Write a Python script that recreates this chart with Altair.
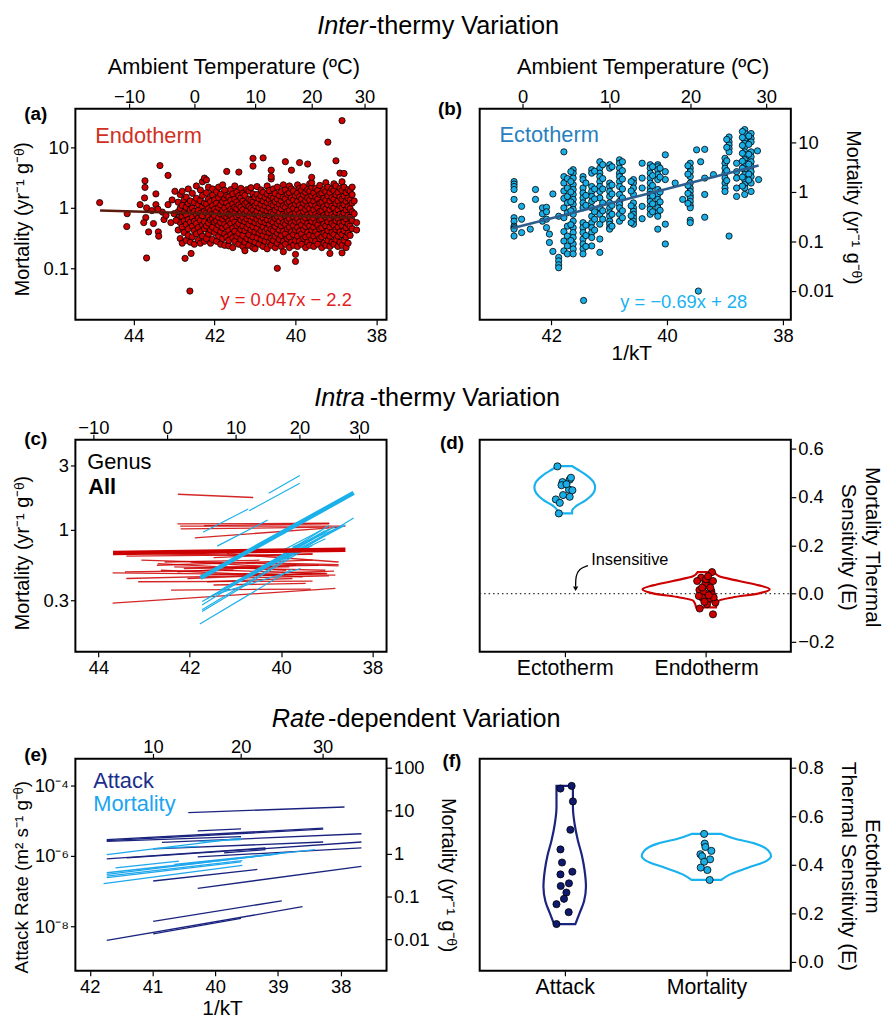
import altair as alt
import pandas as pd

FONT = "Liberation Sans"
KB = 8.617e-5
MORT_TITLE = "Mortality (yr⁻¹ g⁻ᶿ)"
ATT_TITLE = "Attack Rate (m² s⁻¹ g⁻ᶿ)"
W = 314
FRAME = alt.ViewBackground(stroke="black", strokeWidth=2)
NOFRAME = alt.ViewBackground(strokeOpacity=0)
ONE = pd.DataFrame({"o": [0]})

# ---------------- (a) endotherm scatter: 1/kT columns and mortality values ----------------
ENDO_COL_X = [42.90, 42.85, 42.80, 42.75, 42.70, 42.65, 42.60, 42.55, 42.50, 42.45, 42.40, 42.35,
              42.30, 42.25, 42.20, 42.15, 42.10, 42.05, 42.00, 41.95, 41.90, 41.85, 41.80, 41.75,
              41.70, 41.65, 41.60, 41.55, 41.50, 41.45, 41.40, 41.35, 41.30, 41.25, 41.20, 41.15,
              41.10, 41.05, 41.00, 40.95, 40.90, 40.85, 40.80, 40.75, 40.70, 40.65, 40.60, 40.55,
              40.50, 40.45, 40.40, 40.35, 40.30, 40.25, 40.20, 40.15, 40.10, 40.05, 40.00, 39.95,
              39.90, 39.85, 39.80, 39.75, 39.70, 39.65, 39.60, 39.55, 39.50, 39.45, 39.40, 39.35,
              39.30, 39.25, 39.20, 39.15, 39.10, 39.05, 39.00, 38.95, 38.90, 38.85, 38.80, 38.75,
              38.70, 38.65, 38.60]
ENDO_COL_M = [
    [0.43, 0.66, 1.24, 0.86], [0.31, 0.57, 0.98, 1.66], [0.26, 0.48, 0.72, 1.1, 1.88],
    [0.39, 0.61, 0.84, 1.36], [0.29, 0.53, 0.77, 1.02, 1.5], [0.35, 0.45, 0.64, 1.18, 2.05],
    [0.27, 0.58, 0.93, 1.3], [0.33, 0.5, 0.7, 0.99, 1.74], [0.25, 0.42, 0.6, 0.87, 1.23],
    [0.37, 0.55, 0.78, 1.44, 2.3], [0.29, 0.47, 0.68, 0.91, 1.13], [0.26, 0.4, 0.62, 0.81, 1.31, 1.97],
    [0.34, 0.52, 0.74, 1.05, 1.6, 2.7], [0.28, 0.45, 0.59, 0.88, 1.2, 3.1], [0.31, 0.5, 0.83, 1.15, 1.78, 2.9],
    [0.37, 0.56, 0.71, 0.97, 1.4, 2.2], [0.26, 0.43, 0.63, 0.9, 1.27], [0.3, 0.48, 0.66, 0.8, 1.08, 1.63, 2.05],
    [0.39, 0.58, 0.75, 0.95, 1.35], [0.28, 0.44, 0.61, 0.86, 1.19, 1.86], [0.34, 0.52, 0.69, 1.01, 1.48, 2.2],
    [0.25, 0.4, 0.57, 0.79, 1.12, 1.68], [0.31, 0.47, 0.65, 0.9, 1.27, 2.4], [0.24, 0.37, 0.53, 0.73, 0.99, 1.43, 1.95],
    [0.33, 0.49, 0.7, 0.84, 1.2, 1.6, 4.0], [0.235, 0.29, 0.42, 0.6, 0.78, 1.06, 1.52], [0.36, 0.55, 0.75, 0.94, 1.33, 2.0],
    [0.22, 0.32, 0.46, 0.66, 0.88, 1.17, 1.7], [0.28, 0.41, 0.58, 0.81, 1.02, 1.39, 2.3], [0.34, 0.51, 0.72, 0.97, 1.25, 1.83],
    [0.25, 0.38, 0.55, 0.76, 1.12, 1.58, 3.9], [0.3, 0.44, 0.63, 0.85, 1.03, 1.46, 2.1], [0.23, 0.35, 0.5, 0.69, 0.93, 1.29, 1.74],
    [0.195, 0.27, 0.42, 0.59, 0.8, 1.16, 1.61], [0.31, 0.47, 0.66, 0.89, 1.22, 2.0], [0.24, 0.36, 0.53, 0.74, 1.05, 1.39, 1.9],
    [0.29, 0.43, 0.61, 0.83, 0.98, 1.33, 2.15], [0.22, 0.33, 0.49, 0.7, 0.91, 1.25, 1.7, 4.9, 6.6], [0.21, 0.27, 0.4, 0.57, 0.79, 1.09, 1.5],
    [0.32, 0.46, 0.64, 0.87, 1.19, 1.66, 2.25], [0.25, 0.38, 0.54, 0.73, 1.01, 1.42], [0.3, 0.42, 0.6, 0.82, 1.13, 1.57, 1.98],
    [0.23, 0.35, 0.48, 0.68, 0.94, 1.3, 1.81, 6.7], [0.28, 0.41, 0.57, 0.77, 1.07, 1.49], [0.21, 0.33, 0.45, 0.63, 0.89, 1.21, 1.68, 2.3],
    [0.27, 0.39, 0.53, 0.74, 1.0, 1.37, 1.93], [0.24, 0.31, 0.44, 0.61, 0.84, 1.16, 1.55, 3.0, 3.3, 4.2], [0.29, 0.42, 0.58, 0.79, 1.1, 1.45, 2.05],
    [0.22, 0.34, 0.49, 0.67, 0.92, 1.27, 1.73], [0.1, 0.26, 0.38, 0.55, 0.72, 1.03, 1.4, 2.2], [0.3, 0.43, 0.6, 0.82, 1.14, 1.6],
    [0.23, 0.35, 0.5, 0.69, 0.96, 1.3, 1.85], [0.188, 0.28, 0.41, 0.57, 0.78, 1.08, 1.5, 2.4], [0.25, 0.37, 0.53, 0.74, 1.02, 1.41, 1.98, 5.8],
    [0.31, 0.45, 0.62, 0.87, 1.2, 1.68], [0.22, 0.33, 0.48, 0.66, 0.91, 1.26, 1.77, 2.3], [0.27, 0.4, 0.56, 0.77, 1.06, 1.46, 2.05, 4.2],
    [0.24, 0.36, 0.51, 0.71, 0.98, 1.35, 1.9], [0.13, 0.17, 0.29, 0.43, 0.6, 0.83, 1.15, 1.6], [0.23, 0.34, 0.47, 0.66, 0.92, 1.27, 1.75, 2.4],
    [0.28, 0.41, 0.58, 0.8, 1.1, 1.52, 2.1, 5.6], [0.25, 0.37, 0.52, 0.72, 1.0, 1.4, 1.95], [0.31, 0.44, 0.62, 0.86, 1.19, 1.64, 2.25],
    [0.22, 0.33, 0.49, 0.68, 0.94, 1.3, 1.8], [0.27, 0.39, 0.55, 0.76, 1.05, 1.46, 2.0, 5.3], [0.24, 0.35, 0.5, 0.7, 0.97, 1.35, 1.88, 2.5],
    [0.3, 0.43, 0.6, 0.83, 1.14, 1.58, 2.2, 2.6, 3.2], [0.23, 0.34, 0.48, 0.67, 0.93, 1.29, 1.78], [0.28, 0.4, 0.56, 0.78, 1.08, 1.5, 2.1],
    [0.25, 0.36, 0.52, 0.72, 1.0, 1.39, 1.94], [0.31, 0.45, 0.63, 0.87, 1.2, 1.67, 2.35], [0.22, 0.33, 0.47, 0.65, 0.9, 1.25, 1.75],
    [0.26, 0.38, 0.54, 0.75, 1.04, 1.44, 2.0], [0.24, 0.35, 0.5, 0.7, 0.96, 1.34, 1.86, 2.6], [0.29, 0.42, 0.59, 0.82, 1.13, 1.57, 2.2, 12.2],
    [0.176, 0.23, 0.34, 0.48, 0.67, 0.93, 1.29, 1.8], [0.27, 0.39, 0.55, 0.77, 1.06, 1.47, 2.05], [0.25, 0.36, 0.51, 0.71, 0.99, 1.38, 1.92, 2.5],
    [0.3, 0.44, 0.61, 0.85, 1.18, 1.64, 2.3, 6.0], [0.23, 0.34, 0.48, 0.67, 0.93, 1.3, 1.8], [0.27, 0.4, 0.56, 0.78, 1.08, 1.5, 2.1, 3.75],
    [0.18, 0.24, 0.36, 0.51, 0.72, 1.0, 1.39, 1.95, 2.7, 27.7], [0.29, 0.42, 0.59, 0.82, 1.13, 1.57, 2.2, 3.7], [0.22, 0.33, 0.47, 0.66, 0.92, 1.28, 1.78],
    [0.26, 0.38, 0.54, 0.75, 1.04, 1.45, 2.0], [0.35, 0.5, 0.7, 0.97, 1.35, 1.9], [0.45, 0.62, 0.86, 1.2, 1.65, 2.2],
]
ENDO_EXTRA_X = [44.84, 44.16, 44.17, 43.72, 43.72, 43.73, 43.70, 43.75, 43.68, 43.63, 43.51, 43.45,
                43.45, 43.39, 43.38, 43.35, 43.15, 43.25, 43.15, 43.00, 42.98, 43.84, 43.68, 43.29,
                43.08, 43.55, 43.20, 43.05, 42.95, 43.40, 42.61, 42.73, 42.58, 38.49, 38.49, 38.55, 38.55]
ENDO_EXTRA_M = [1.22, 0.80, 0.49, 2.8, 2.18, 1.46, 0.69, 0.57, 0.148, 0.40, 0.55, 1.7,
                1.13, 0.40, 0.34, 5.0, 3.44, 0.64, 1.13, 0.8, 1.88, 1.13, 1.0, 0.85,
                0.57, 0.9, 0.75, 1.35, 0.62, 0.95, 0.042, 0.146, 0.176, 0.57, 0.43, 0.8, 1.3]
ENDO_FIT_X = [44.83, 38.53]
ENDO_FIT_M = [0.904, 0.686]

# ---------------- (b) ectotherm scatter: 1/kT columns and log10 mortality ----------------
ECTO_COL_X = [42.64, 42.51, 42.36, 42.27, 42.15, 42.08, 42.03, 41.97, 41.87, 41.78, 41.72, 41.62,
              41.45, 41.30, 41.16, 40.99, 40.82, 40.58, 40.43, 40.29, 40.16, 40.03, 39.86, 39.73,
              39.60, 39.49, 39.42, 39.35, 39.20, 39.00, 38.93, 38.80, 38.66, 38.55, 38.44, 38.42,
              41.66, 41.40, 41.25, 41.11, 40.95, 40.77, 40.62, 40.25, 40.12, 39.64, 38.70, 38.59, 38.97]
ECTO_COL_L = [
    [0.21, 0.16, 0.11, 0.05, -0.15, -0.52, -0.59, -0.69, -0.72, -0.75, -0.89],
    [-0.29, -0.55, -0.82], [-0.75], [0.05, -0.15], [-0.32, -0.44, -0.59], [-0.31, -0.40, -0.55, -0.72],
    [-0.85, -1.02], [-0.04, -1.20], [-0.49, -1.32, -1.39, -1.47, -1.53],
    [0.81, 0.31, 0.18, 0.02, -0.13, -0.32, -0.52, -0.80, -0.99, -1.19],
    [0.27, 0.08, -0.09, -0.22, -0.42, -0.69, -0.89, -1.09, -1.25],
    [0.45, 0.38, 0.28, 0.15, 0.05, -0.05, -0.15, -0.25, -0.35, -0.45, -0.59, -0.72, -0.82, -0.92, -1.05, -1.15, -1.25],
    [0.31, 0.25, 0.08, -0.02, -0.12, -0.22, -0.32, -0.62, -0.72, -0.82, -0.95, -1.05, -1.15, -1.25],
    [0.45, 0.38, 0.11, 0.01, -0.09, -0.19, -0.32, -0.49, -0.62, -0.72, -0.82, -0.92, -1.09],
    [0.61, 0.48, 0.38, 0.31, 0.21, 0.11, 0.01, -0.12, -0.32, -0.45, -0.65, -0.95, -1.22],
    [0.55, 0.48, 0.18, 0.11, 0.01, -0.09, -0.22, -0.32, -0.42, -0.49, -0.59, -0.65, -0.72, -0.75],
    [0.65, 0.58, 0.48, 0.38, 0.31, 0.21, 0.11, -0.05, -0.19, -0.25, -0.32, -0.45, -0.59],
    [0.25, 0.18, 0.08, -0.05, -0.22, -0.32, -0.39, -0.45, -0.52, -0.59, -0.65],
    [0.58, 0.28, 0.08, -0.29, -0.54],
    [0.55, 0.48, 0.38, 0.28, 0.18, 0.08, 0.01, -0.05, -0.12, -0.19, -0.29, -0.35, -0.45],
    [0.55, 0.51, 0.45, 0.35, 0.25, 0.05, -0.05, -0.15, -0.25, -0.32, -0.42, -0.49, -0.75],
    [0.75, 0.41, 0.25, -0.65, -1.05], [0.18], [-0.15],
    [0.58, 0.48, 0.41, 0.31, 0.18, 0.08, 0.01, -0.07, -0.12, -0.19, -0.27, -0.32, -0.57, -0.62],
    [0.85], [0.61], [0.86, 0.28, -0.05, -0.51], [0.35],
    [0.68, 0.58, 0.48, 0.38, 0.28, 0.18, 0.08, 0.01],
    [1.11, 1.01, 0.95, 0.88, 0.81, -0.89],
    [0.58, 0.41, 0.28, 0.08, -0.09],
    [1.26, 1.18, 1.05, 0.98, 0.91, 0.81, 0.75, 0.65, 0.58, 0.51, 0.45, 0.35, 0.25, 0.15, 0.08, -0.05],
    [1.18, 1.08, 1.01, 0.81, 0.71, 0.61, 0.51, 0.41, 0.31, 0.18, 0.01],
    [0.83], [0.25],
    [0.41, 0.21, 0.0, -0.20, -0.38, -0.66, -0.98],
    [0.18, -0.07, -0.27, -0.67, -0.88, -1.10],
    [0.42, 0.06, -0.14, -0.40, -0.55, -0.77],
    [0.55, 0.27, 0.06, -0.22, -0.38, -0.55],
    [0.51, 0.14, -0.04, -0.27, -0.45, -0.69],
    [0.61, 0.43, 0.26, 0.06, -0.12, -0.38, -0.52],
    [0.21, 0.02, -0.28, -0.48, -0.62],
    [0.51, 0.33, 0.13, -0.08, -0.24, -0.40],
    [0.48, 0.30, 0.0, -0.20, -0.37],
    [0.53, 0.36, 0.13, -0.03, -0.23],
    [1.22, 1.1, 0.94, 0.78, 0.62, 0.48, 0.30, 0.12],
    [1.13, 0.96, 0.76, 0.56, 0.36, 0.24],
    [1.06, 0.9, 0.63, 0.43, 0.23],
]
ECTO_EXTRA_X = [39.46, 41.44]
ECTO_EXTRA_L = [-2.0, -2.19]
ECTO_FIT_X = [42.67, 38.42]
ECTO_FIT_L = [-0.733, 0.533]

# ---------------- (c) genus-level fits (1/kT start/end, log10 mortality start/end) ----------------
CR_X1 = [42.26, 42.27, 42.21, 41.89, 42.20, 43.06, 43.39, 42.72, 43.69, 43.39, 43.13, 42.41, 43.69, 42.70, 42.34, 42.27, 41.76,
         41.26, 43.06, 41.48, 42.63, 42.05, 41.62, 43.42, 40.83, 41.48, 41.98, 40.76, 41.69, 41.19, 42.55, 42.13, 41.33]
CR_X2 = [40.61, 38.94, 38.59, 38.70, 38.95, 38.74, 39.31, 39.31, 38.81, 38.99, 39.31, 39.35, 38.81, 39.89, 39.03, 39.67, 38.84,
         39.03, 39.82, 39.31, 39.53, 39.31, 39.75, 41.04, 38.95, 39.46, 40.18, 38.74, 38.95, 38.74, 40.47, 39.82, 39.17]
CR_L1 = [0.263, 0.044, 0.027, -0.059, 0.007, -0.224, -0.193, -0.261, -0.317, -0.359, -0.383, -0.444, -0.541, -0.249, -0.273, -0.310, -0.334,
         -0.298, -0.176, -0.205, -0.298, -0.359, -0.383, -0.310, -0.354, -0.407, -0.237, -0.241, 0.032, -0.176, -0.237, -0.285, -0.273]
CR_L2 = [0.239, 0.049, 0.027, 0.020, 0.020, -0.266, -0.180, -0.224, -0.334, -0.322, -0.378, -0.437, -0.432, -0.298, -0.298, -0.261, -0.305,
         -0.322, -0.193, -0.176, -0.346, -0.322, -0.359, -0.298, -0.339, -0.395, -0.273, -0.256, 0.044, -0.237, -0.224, -0.273, -0.261]
CB_X1 = [40.27, 40.70, 41.71, 41.40, 41.73, 41.73, 41.73, 41.78, 41.62, 41.48, 41.33, 41.12, 40.90, 40.76, 40.47, 40.25, 41.73, 40.03, 39.75]
CB_X2 = [39.59, 39.59, 40.72, 40.29, 38.74, 38.95, 38.41, 39.77, 39.17, 39.57, 39.03, 38.81, 38.95, 38.59, 39.03, 39.31, 39.46, 39.13, 38.66]
CB_L1 = [0.271, 0.141, -0.017, -0.120, -0.529, -0.554, -0.590, -0.695, -0.505, -0.480, -0.444, -0.420, -0.383, -0.359, -0.298, -0.261, -0.602, -0.164, -0.127]
CB_L2 = [0.402, 0.344, 0.154, 0.073, 0.020, 0.032, 0.088, -0.290, -0.041, -0.285, -0.005, 0.027, 0.007, 0.037, -0.066, -0.115, -0.139, -0.005, 0.027]
ALL_ENDO = ([43.68], [38.59], [-0.171], [-0.146])
ALL_ECTO = ([41.765], [38.41], [-0.354], [0.273])

# ---------------- (d) thermal sensitivity violins ----------------
D_ECTO_V = [0.332, 0.343, 0.363, 0.387, 0.415, 0.438, 0.462, 0.490, 0.517, 0.528]
D_ECTO_HW = [0.052, 0.052, 0.082, 0.150, 0.201, 0.215, 0.204, 0.155, 0.082, 0.052]
D_ENDO_V = [-0.057, -0.030, -0.016, 0.001, 0.018, 0.034, 0.052, 0.0725, 0.089]
D_ENDO_HW = [0.070, 0.089, 0.187, 0.375, 0.450, 0.375, 0.234, 0.089, 0.059]
D_ECTO_PX = [0.948, 0.984, 1.035, 1.044, 0.977, 1.030, 1.054, 0.988, 1.035, 0.937, 0.965, 0.958, 1.012]
D_ECTO_PV = [0.527, 0.462, 0.472, 0.480, 0.449, 0.431, 0.428, 0.408, 0.401, 0.390, 0.376, 0.332, 0.453]
D_ENDO_PX = [2.042, 1.965, 1.937, 2.049, 2.007, 1.953, 2.037, 1.984, 2.042, 1.972, 2.023, 2.066, 2.007, 1.955, 2.049,
             1.995, 2.030, 1.972, 1.949, 2.054, 1.988, 2.019, 2.000, 2.014]
D_ENDO_PV = [0.089, 0.066, 0.052, 0.052, 0.034, 0.015, 0.011, 0.004, -0.003, -0.016, -0.023, -0.037, -0.044, -0.062, -0.086,
             0.042, 0.025, 0.025, -0.010, -0.016, -0.034, -0.007, 0.059, 0.072]
ARROW_X = [1.164, 1.101, 1.077, 1.077]
ARROW_V = [0.116, 0.103, 0.0725, 0.029]

# ---------------- (e) attack vs mortality fits ----------------
EA_X1 = [40.43, 40.28, 41.73, 41.73, 41.73, 40.85, 40.99, 41.73, 41.41, 40.28, 39.86, 40.99, 40.28, 40.99, 41.73, 40.99]
EA_X2 = [37.94, 39.59, 38.28, 38.28, 39.59, 37.67, 38.28, 39.20, 37.67, 37.67, 39.20, 39.33, 37.67, 38.94, 38.61, 39.59]
EA_L1 = [-4.778, -5.293, -5.546, -5.574, -5.593, -5.621, -5.808, -6.089, -6.061, -6.033, -5.920, -6.717, -6.923, -7.860, -8.403, -8.215]
EA_L2 = [-4.618, -5.237, -5.218, -5.246, -5.461, -5.377, -5.611, -5.780, -5.611, -5.780, -5.827, -6.389, -6.304, -7.280, -7.447, -7.775]
EM_X1 = [41.73, 40.25, 39.59, 41.59, 41.73, 41.73, 41.73, 41.78, 40.99, 40.65, 41.73]
EM_X2 = [39.59, 39.59, 38.41, 40.58, 38.91, 39.57, 39.59, 39.57, 40.27, 38.91, 39.07]
EM_L1 = [-0.023, 0.285, -0.100, -0.331, -0.485, -0.523, -0.562, -0.700, 0.115, -0.254, -0.446]
EM_L2 = [0.362, 0.323, 0.092, -0.177, 0.015, -0.162, -0.192, -0.277, 0.169, 0.015, -0.023]

# ---------------- (f) ectotherm sensitivity violins ----------------
F_ATT_V = [0.155, 0.200, 0.248, 0.309, 0.378, 0.439, 0.500, 0.568, 0.636, 0.725]
F_ATT_HW = [0.075, 0.105, 0.136, 0.150, 0.140, 0.121, 0.093, 0.070, 0.058, 0.058]
F_MORT_V = [0.337, 0.357, 0.388, 0.416, 0.436, 0.459, 0.487, 0.507, 0.527]
F_MORT_HW = [0.105, 0.157, 0.297, 0.425, 0.456, 0.437, 0.343, 0.203, 0.105]
F_ATT_PX = [0.970, 1.049, 1.058, 1.040, 0.970, 0.981, 1.054, 0.970, 1.030, 0.972, 1.012, 0.995, 0.942, 1.028, 0.942]
F_ATT_PV = [0.714, 0.725, 0.661, 0.544, 0.463, 0.409, 0.371, 0.360, 0.323, 0.312, 0.285, 0.259, 0.237, 0.204, 0.155]
F_MORT_PX = [1.984, 1.988, 1.993, 2.035, 1.958, 1.970, 2.026, 1.984, 1.960, 2.007, 2.023]
F_MORT_PV = [0.527, 0.487, 0.473, 0.457, 0.443, 0.435, 0.422, 0.412, 0.388, 0.378, 0.337]

TEMPS_A = [-10, 0, 10, 20, 30]
TEMPS_B = [0, 10, 20, 30]
TEMPS_E = [10, 20, 30]

RED = "#CC0000"
CYAN = "#1AAEE6"
NAVY = "#1A237E"


def flat(cx, cv):
    xs, vs = [], []
    for x, vals in zip(cx, cv):
        for v in vals:
            xs.append(x)
            vs.append(v)
    return xs, vs


def txt(s, x, y, size=18.5, color="black", align="left", weight="normal", style="normal"):
    return alt.Chart(ONE).mark_text(text=s, font=FONT, fontSize=size, color=color, align=align,
                                    baseline="middle", fontWeight=weight, fontStyle=style
                                    ).encode(x=alt.value(x), y=alt.value(y))


def temp_axis(sx, ax, temps):
    base = alt.Chart(pd.DataFrame({"t": temps})).transform_calculate(
        xk=f"1/({KB}*(datum.t+273.15))")
    ticks = base.mark_rule(color="black", strokeWidth=1.2).encode(
        x=alt.X("xk:Q", scale=sx, axis=ax), y=alt.value(0), y2=alt.value(-5))
    labs = base.mark_text(font=FONT, fontSize=18.5, baseline="middle", color="black").encode(
        x=alt.X("xk:Q", scale=sx, axis=ax), y=alt.value(-12), text=alt.Text("t:Q", format="d"))
    return [ticks, labs]


def segs(x1, x2, l1, l2, sx, sy, ax, ay, color, width, opacity=1.0):
    df = pd.DataFrame({"x1": x1, "x2": x2, "l1": l1, "l2": l2})
    return alt.Chart(df).transform_calculate(
        m1="pow(10, datum.l1)", m2="pow(10, datum.l2)"
    ).mark_rule(color=color, strokeWidth=width, opacity=opacity, strokeCap="butt").encode(
        x=alt.X("x1:Q", scale=sx, axis=ax), x2="x2:Q",
        y=alt.Y("m1:Q", scale=sy, axis=ay), y2="m2:Q")


def violin(center, vals, hws, color, sx, sy, ax, ay):
    df = pd.DataFrame({"v": vals, "hw": hws})
    return alt.Chart(df).transform_calculate(
        xl=f"{center} - datum.hw", xr=f"{center} + datum.hw"
    ).mark_area(orient="horizontal", fillOpacity=0, stroke=color, strokeWidth=2.2,
                interpolate="monotone").encode(
        y=alt.Y("v:Q", scale=sy, axis=ay), x=alt.X("xl:Q", scale=sx, axis=ax), x2="xr:Q")


def vpoints(px, pv, fill, sx, sy, ax, ay, size=52):
    df = pd.DataFrame({"x": px, "v": pv})
    return alt.Chart(df).mark_circle(size=size, fill=fill, stroke="black", strokeWidth=0.8, opacity=1).encode(
        x=alt.X("x:Q", scale=sx, axis=ax), y=alt.Y("v:Q", scale=sy, axis=ay))


def bottom_axis(values, title=None, tx=0, ty=0, **kw):
    d = dict(values=values, orient="bottom", labelFlush=False, labelOverlap=False, labelFontSize=18.5)
    if title:
        d.update(title=title, titleX=tx, titleY=ty, titleAlign="center", titleBaseline="middle", titleFontSize=21)
    else:
        d["title"] = None
    d.update(kw)
    return alt.Axis(**d)


def side_axis(values, orient, title, tx, ty, size=20, **kw):
    d = dict(values=values, orient=orient, title=title, titleX=tx, titleY=ty,
             titleAngle=270 if orient == "left" else 90, titleAlign="center", titleBaseline="middle",
             titleFontSize=size, labelFlush=False, labelOverlap=False, labelFontSize=18.5)
    d.update(kw)
    return alt.Axis(**d)


# ================= panel (a) =================
sx_a = alt.Scale(domain=[37.75, 45.44], reverse=True, nice=False, zero=False)
sy_a = alt.Scale(type="log", domain=[0.01406, 43.6], nice=False)
ax_a = bottom_axis([44, 42, 40, 38])
ay_a = side_axis([0.1, 1, 10], "left", MORT_TITLE, -53, 111, format="~g")
ax_, am_ = flat(ENDO_COL_X, ENDO_COL_M)
df_a = pd.DataFrame({"x": ax_ + ENDO_EXTRA_X, "m": am_ + ENDO_EXTRA_M})
pts_a = alt.Chart(df_a).mark_circle(size=40, fill=RED, stroke="black", strokeWidth=0.8, opacity=1).encode(
    x=alt.X("x:Q", scale=sx_a, axis=ax_a), y=alt.Y("m:Q", scale=sy_a, axis=ay_a))
fit_a = alt.Chart(pd.DataFrame({"x": ENDO_FIT_X, "m": ENDO_FIT_M})).mark_line(
    color="#5B1A0E", strokeWidth=2.5).encode(
    x=alt.X("x:Q", scale=sx_a, axis=ax_a), y=alt.Y("m:Q", scale=sy_a, axis=ay_a))
panel_a = alt.layer(
    pts_a, fit_a, *temp_axis(sx_a, ax_a, TEMPS_A),
    txt("Ambient Temperature (ºC)", 160, -42, size=22, align="center"),
    txt("(a)", -40, 5, size=19, weight="bold", align="center"),
    txt("Endotherm", 20, 28, size=22, color="#D0301F"),
    txt("y = 0.047x − 2.2", 279, 193, size=18.5, color="#E3211C", align="right"),
).properties(width=W, height=213, view=FRAME)

# ================= panel (b) =================
sx_b = alt.Scale(domain=[37.864, 43.233], reverse=True, nice=False, zero=False)
sy_b = alt.Scale(type="log", domain=[0.00263, 47.9], nice=False)
ax_b = bottom_axis([42, 40, 38], "1/kT", 153, 34)
ay_b = side_axis([0.01, 0.1, 1, 10], "right", MORT_TITLE, 62, 99, format="~g")
bx_, bl_ = flat(ECTO_COL_X, ECTO_COL_L)
df_b = pd.DataFrame({"x": bx_ + ECTO_EXTRA_X, "l": bl_ + ECTO_EXTRA_L})
pts_b = alt.Chart(df_b).transform_calculate(m="pow(10, datum.l)").mark_circle(
    size=40, fill=CYAN, stroke="black", strokeWidth=0.8, opacity=1).encode(
    x=alt.X("x:Q", scale=sx_b, axis=ax_b), y=alt.Y("m:Q", scale=sy_b, axis=ay_b))
fit_b = alt.Chart(pd.DataFrame({"x": ECTO_FIT_X, "l": ECTO_FIT_L})).transform_calculate(
    m="pow(10, datum.l)").mark_line(color="#2E5E8E", strokeWidth=2.5).encode(
    x=alt.X("x:Q", scale=sx_b, axis=ax_b), y=alt.Y("m:Q", scale=sy_b, axis=ay_b))
panel_b = alt.layer(
    pts_b, fit_b, *temp_axis(sx_b, ax_b, TEMPS_B),
    txt("Ambient Temperature (ºC)", 165, -42, size=22, align="center"),
    txt("(b)", -30, 0, size=19, weight="bold", align="center"),
    txt("Ectotherm", 20, 27, size=22, color="#2A7FC0"),
    txt("y = −0.69x + 28", 270, 195, size=18.5, color="#19B2F0", align="right"),
).properties(width=W, height=213, view=FRAME)

# ================= panel (c) =================
sx_c = alt.Scale(domain=[37.69, 44.505], reverse=True, nice=False, zero=False)
sy_c = alt.Scale(type="log", domain=[0.126, 4.63], nice=False)
ax_c = bottom_axis([44, 42, 40, 38])
ay_c = side_axis([0.3, 1, 3], "left", MORT_TITLE, -53, 114, format="~g")
red_c = segs(CR_X1, CR_X2, CR_L1, CR_L2, sx_c, sy_c, ax_c, ay_c, RED, 1.3, 0.85)
blue_c = segs(CB_X1, CB_X2, CB_L1, CB_L2, sx_c, sy_c, ax_c, ay_c, "#1AB0EA", 1.2)
allr_c = segs(*ALL_ENDO, sx_c, sy_c, ax_c, ay_c, RED, 4.5)
allb_c = segs(*ALL_ECTO, sx_c, sy_c, ax_c, ay_c, "#1AB0EA", 4.5)
panel_c = alt.layer(
    red_c, blue_c, allr_c, allb_c, *temp_axis(sx_c, ax_c, TEMPS_A),
    txt("(c)", -40, -1, size=19, weight="bold", align="center"),
    txt("Genus", 12, 23, size=22),
    txt("All", 13, 48, size=22, weight="bold"),
).properties(width=W, height=214, view=FRAME)

# ================= panel (d) =================
sx_d = alt.Scale(domain=[0.398, 2.6], nice=False, zero=False)
sy_d = alt.Scale(domain=[-0.241, 0.6375], nice=False, zero=False)
ax_d = bottom_axis([1, 2], labelExpr="datum.value == 1 ? 'Ectotherm' : 'Endotherm'",
                   labelFontSize=21.5, labelPadding=1)
ay_d = side_axis([-0.2, 0, 0.2, 0.4, 0.6], "right", ["Mortality Thermal", "Sensitivity (E)"], 81, 108,
                 size=21, format=".1f", titleLineHeight=24)
zero_d = alt.Chart(pd.DataFrame({"x": [0.398], "x2": [2.6], "v": [0.0]})).mark_rule(
    strokeDash=[1.5, 3], color="#333333", strokeWidth=1.3).encode(
    x=alt.X("x:Q", scale=sx_d, axis=ax_d), x2="x2:Q", y=alt.Y("v:Q", scale=sy_d, axis=ay_d))
arrow_d = alt.Chart(pd.DataFrame({"x": ARROW_X, "v": ARROW_V, "i": list(range(len(ARROW_X)))})).mark_line(
    color="black", strokeWidth=1.3, interpolate="basis").encode(
    x=alt.X("x:Q", scale=sx_d, axis=ax_d), y=alt.Y("v:Q", scale=sy_d, axis=ay_d), order="i:Q")
head_d = alt.Chart(pd.DataFrame({"x": [ARROW_X[-1]], "v": [0.02]})).mark_point(
    shape="triangle-down", filled=True, size=28, color="black", opacity=1).encode(
    x=alt.X("x:Q", scale=sx_d, axis=ax_d), y=alt.Y("v:Q", scale=sy_d, axis=ay_d))
ins_d = alt.Chart(pd.DataFrame({"x": [1.187], "v": [0.141], "s": ["Insensitive"]})).mark_text(
    font=FONT, fontSize=16.5, align="left", baseline="middle", color="black").encode(
    x=alt.X("x:Q", scale=sx_d, axis=ax_d), y=alt.Y("v:Q", scale=sy_d, axis=ay_d), text="s:N")
panel_d = alt.layer(
    zero_d, arrow_d, head_d, ins_d,
    violin(1, D_ECTO_V, D_ECTO_HW, "#1AB2EE", sx_d, sy_d, ax_d, ay_d),
    violin(2, D_ENDO_V, D_ENDO_HW, RED, sx_d, sy_d, ax_d, ay_d),
    vpoints(D_ECTO_PX, D_ECTO_PV, CYAN, sx_d, sy_d, ax_d, ay_d),
    vpoints(D_ENDO_PX, D_ENDO_PV, RED, sx_d, sy_d, ax_d, ay_d),
    txt("(d)", -28, 3, size=19, weight="bold", align="center"),
).properties(width=W, height=214, view=FRAME)

# ================= panel (e) =================
sx_e = alt.Scale(domain=[37.27, 42.23], reverse=True, nice=False, zero=False)
sy_att = alt.Scale(type="log", domain=[5.43e-10, 5.62e-4], nice=False)
sy_mort = alt.Scale(type="log", domain=[0.00186, 161.4], nice=False)
ax_e = bottom_axis([42, 41, 40, 39, 38], "1/kT", 148, 38)
ay_att = side_axis([1e-8, 1e-6, 1e-4], "left", ATT_TITLE, -54, 119, size=19,
                   labelExpr="datum.value < 1e-7 ? '10⁻⁸' : (datum.value < 1e-5 ? '10⁻⁶' : '10⁻⁴')")
ay_mort = side_axis([0.01, 0.1, 1, 10, 100], "right", MORT_TITLE, 61, 117, format="~g")
att_e = segs(EA_X1, EA_X2, EA_L1, EA_L2, sx_e, sy_att, ax_e, ay_att, NAVY, 1.3)
mort_e = segs(EM_X1, EM_X2, EM_L1, EM_L2, sx_e, sy_mort, ax_e, ay_mort, "#1EA7EC", 1.3)
panel_e = alt.layer(
    att_e, mort_e, *temp_axis(sx_e, ax_e, TEMPS_E),
    txt("(e)", -40, -4, size=19, weight="bold", align="center"),
    txt("Attack", 18, 22, size=22, color="#1B2F8A"),
    txt("Mortality", 18, 46, size=22, color="#1AA5F0"),
).resolve_scale(y="independent").properties(width=W, height=214, view=FRAME)

# ================= panel (f) =================
sx_f = alt.Scale(domain=[0.4, 2.596], nice=False, zero=False)
sy_f = alt.Scale(domain=[-0.038, 0.837], nice=False, zero=False)
ax_f = bottom_axis([1, 2], labelExpr="datum.value == 1 ? 'Attack' : 'Mortality'",
                   labelFontSize=21.5, labelPadding=1)
ay_f = side_axis([0, 0.2, 0.4, 0.6, 0.8], "right", ["Ectotherm", "Thermal Sensitivity (E)"], 81, 108,
                 size=21, format=".1f", titleLineHeight=24)
panel_f = alt.layer(
    violin(1, F_ATT_V, F_ATT_HW, NAVY, sx_f, sy_f, ax_f, ay_f),
    violin(2, F_MORT_V, F_MORT_HW, "#1AB2EE", sx_f, sy_f, ax_f, ay_f),
    vpoints(F_ATT_PX, F_ATT_PV, "#0F1A6E", sx_f, sy_f, ax_f, ay_f),
    vpoints(F_MORT_PX, F_MORT_PV, CYAN, sx_f, sy_f, ax_f, ay_f),
    txt("(f)", -28, 2, size=19, weight="bold", align="center"),
).properties(width=W, height=214, view=FRAME)


# ================= row titles =================
def row_title(ital, rest, xr, xl, y, h):
    left = alt.layer(
        txt(ital, xr, y, size=25.5, style="italic", align="right"),
        txt(rest, xl, y, size=25.5, align="left"),
    ).properties(width=W, height=h, view=NOFRAME)
    right = txt("", 100, h / 2).properties(width=W, height=h, view=NOFRAME)
    return left, right


t1l, t1r = row_title("Inter", "-thermy Variation", 295, 296, 14, 97)
t2l, t2r = row_title("Intra", "-thermy Variation", 292, 297, 79, 121)
t3l, t3r = row_title("Rate", "-dependent Variation", 252, 255, 68, 108)

chart = alt.concat(
    t1l, t1r, panel_a, panel_b, t2l, t2r, panel_c, panel_d, t3l, t3r, panel_e, panel_f,
    columns=2, spacing={"row": 0, "column": 94}, bounds="flush", align="each",
).properties(
    padding={"left": 3, "top": 0, "right": 0, "bottom": 0}
).configure_axis(
    labelFont=FONT, titleFont=FONT, labelFontSize=18.5, titleFontSize=21, labelColor="black",
    titleColor="black", tickColor="black", tickSize=5, tickWidth=1.2, domain=False, grid=False,
    labelPadding=2, titleFontWeight="normal",
).configure_view(stroke="black", strokeWidth=2).configure_text(font=FONT)

chart.save("out.html", embed_options={"renderer": "svg", "actions": False})
